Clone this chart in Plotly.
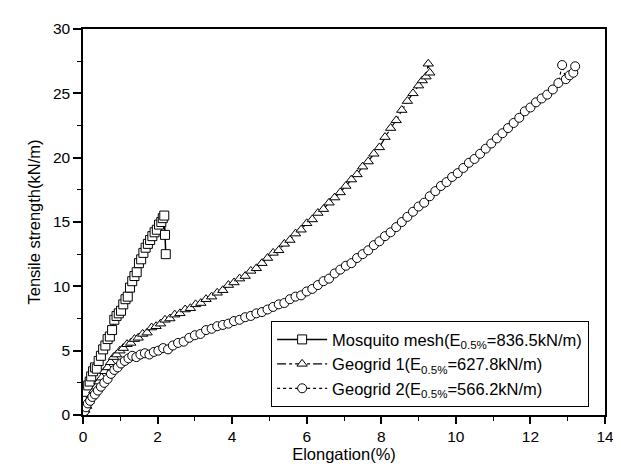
import plotly.graph_objects as go

# Mosquito mesh
mm_x = [0.00,0.03,0.06,0.10,0.14,0.18,0.22,0.27,0.32,0.37,0.42,0.48,0.54,0.60,0.66,0.72,0.78,0.84,0.90,0.96,
        1.02,1.08,1.14,1.20,1.26,1.32,1.38,1.44,1.50,1.56,1.62,1.68,1.74,1.80,1.86,1.92,1.98,2.04,2.10,2.14,
        2.18,2.20,2.22]
mm_y = [0.5,0.9,1.3,1.8,2.3,2.6,3.0,3.4,3.7,3.6,4.2,4.6,5.1,5.4,5.9,6.1,6.6,7.4,7.7,7.9,
        8.1,8.6,9.0,9.2,9.9,10.4,10.8,11.1,11.8,12.1,12.6,13.0,13.3,13.6,13.9,14.2,14.4,14.8,15.0,15.3,
        15.5,14.0,12.5]

# Geogrid 1
g1_x = [0.00,0.05,0.10,0.16,0.22,0.29,0.36,0.43,0.50,0.58,0.66,0.74,0.82,0.90,0.99,1.08,1.18,1.28,1.38,1.48,
        1.60,1.72,1.84,1.96,2.08,2.20,2.33,2.46,2.60,2.74,2.88,3.02,3.16,3.30,3.45,3.60,3.75,3.90,4.05,4.20,
        4.35,4.50,4.65,4.80,4.95,5.10,5.25,5.40,5.55,5.70,5.85,6.00,6.15,6.30,6.45,6.60,6.75,6.90,7.05,7.20,
        7.35,7.50,7.65,7.80,7.95,8.10,8.25,8.40,8.55,8.70,8.85,9.00,9.10,9.20,9.26,9.30]
g1_y = [0.0,0.4,0.7,1.1,1.5,1.9,2.2,2.6,2.9,3.4,3.7,4.1,4.5,4.7,5.0,5.2,5.5,5.6,5.9,6.0,
        6.3,6.4,6.8,6.9,7.1,7.4,7.5,7.8,7.9,8.2,8.3,8.6,8.7,9.0,9.2,9.5,9.7,10.1,10.3,10.6,
        10.8,11.2,11.4,11.8,12.2,12.6,12.8,13.3,13.6,14.1,14.4,14.9,15.2,15.7,16.0,16.5,16.9,17.3,17.8,18.3,
        18.7,19.3,19.7,20.3,20.8,21.6,22.3,22.9,23.7,24.4,25.0,25.6,26.0,26.3,27.3,26.6]

# Geogrid 2
g2_x = [0.00,0.04,0.08,0.13,0.19,0.25,0.32,0.40,0.48,0.57,0.66,0.75,0.84,0.93,1.02,1.12,1.22,1.32,1.43,1.54,
        1.66,1.78,1.90,2.02,2.15,2.28,2.41,2.55,2.70,2.85,3.00,3.15,3.30,3.45,3.60,3.75,3.90,4.05,4.20,4.35,
        4.50,4.65,4.80,4.95,5.10,5.25,5.40,5.55,5.70,5.85,6.00,6.15,6.30,6.45,6.60,6.75,6.90,7.05,7.20,7.35,
        7.50,7.65,7.80,7.95,8.10,8.25,8.40,8.55,8.70,8.85,9.00,9.15,9.30,9.45,9.60,9.75,9.90,10.05,10.20,10.35,
        10.50,10.65,10.80,10.95,11.10,11.25,11.40,11.55,11.70,11.85,12.00,12.15,12.30,12.45,12.60,12.75,12.85,12.95,13.05,13.15,
        13.20]
g2_y = [0.0,0.3,0.6,0.9,1.1,1.4,1.6,1.9,2.2,2.5,2.8,3.2,3.5,3.7,4.0,4.2,4.4,4.6,4.5,4.7,
        4.8,4.7,4.9,5.0,5.2,5.1,5.4,5.6,5.7,6.0,6.2,6.3,6.6,6.7,6.9,7.0,7.1,7.3,7.4,7.6,
        7.7,7.9,8.0,8.2,8.4,8.6,8.7,9.0,9.2,9.3,9.6,9.8,10.1,10.4,10.6,11.0,11.3,11.6,11.8,12.2,
        12.5,12.8,13.2,13.5,13.9,14.2,14.6,15.0,15.4,15.8,16.2,16.5,17.0,17.4,17.8,18.1,18.5,18.8,19.2,19.6,
        19.9,20.3,20.7,21.1,21.5,21.9,22.3,22.7,23.1,23.6,23.9,24.3,24.6,24.9,25.3,25.8,27.2,26.1,26.4,26.6,
        27.1]

names = ["Mosquito mesh(E<sub>0.5%</sub>=836.5kN/m)",
         "Geogrid 1(E<sub>0.5%</sub>=627.8kN/m)",
         "Geogrid 2(E<sub>0.5%</sub>=566.2kN/m)"]

x_ticks = [0, 2, 4, 6, 8, 10, 12, 14]
y_ticks = [0, 5, 10, 15, 20, 25, 30]

fig = go.Figure()

def add(x, y, name, symbol, dash, lw):
    fig.add_trace(go.Scatter(
        x=x, y=y, name=name, mode="lines+markers",
        line=dict(color="black", width=lw, dash=dash),
        marker=dict(symbol=symbol, size=9, color="white",
                    line=dict(color="black", width=1)),
    ))

add(mm_x, mm_y, names[0], "square", "solid", 1.5)
add(g1_x, g1_y, names[1], "triangle-up", "dashdot", 1.2)
add(g2_x, g2_y, names[2], "circle", "dot", 1.2)

FONT = "Arial, Liberation Sans, sans-serif"
axis_font = dict(family=FONT, size=15.5, color="black")
title_font = dict(family=FONT, size=16.5, color="black")

fig.update_xaxes(
    range=[0, 14], tickvals=x_ticks, ticktext=[str(v) for v in x_ticks],
    showline=True, linecolor="black", linewidth=1.5, mirror=True,
    ticks="outside", ticklen=7, tickwidth=1.5, tickcolor="black",
    minor=dict(dtick=1, ticks="outside", ticklen=4, tickwidth=1, tickcolor="black"),
    showgrid=False, zeroline=False, tickfont=axis_font,
    title=dict(text="Elongation(%)", font=title_font, standoff=3),
)
fig.update_yaxes(
    range=[0, 30], tickvals=y_ticks, ticktext=[str(v) for v in y_ticks],
    showline=True, linecolor="black", linewidth=1.5, mirror=True,
    ticks="outside", ticklen=8, tickwidth=1.5, tickcolor="black",
    minor=dict(dtick=2.5, ticks="outside", ticklen=4, tickwidth=1, tickcolor="black"),
    showgrid=False, zeroline=False, tickfont=axis_font,
    title=dict(text="Tensile strength(kN/m)", font=title_font, standoff=8),
)

fig.update_layout(
    width=621, height=468,
    margin=dict(l=75, r=24, t=18, b=61),
    paper_bgcolor="white", plot_bgcolor="white",
    showlegend=True,
    legend=dict(
        x=0.36, y=0.2436, xanchor="left", yanchor="top",
        bgcolor="white", bordercolor="black", borderwidth=1.2,
        font=dict(family=FONT, size=16.5, color="black"),
        itemwidth=50, tracegroupgap=0,
    ),
)

fig.write_html("out.html")
